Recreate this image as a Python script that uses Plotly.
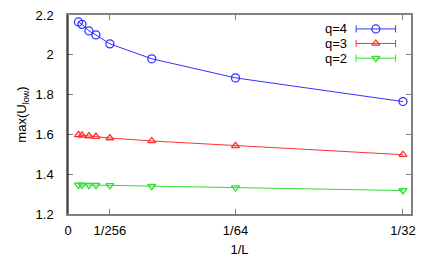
import plotly.graph_objects as go

L_sizes = [1024, 768, 512, 384, 256, 128, 64, 32]
inv_L = [1.0 / s for s in L_sizes]
q4_vals = [2.165, 2.153, 2.120, 2.100, 2.055, 1.980, 1.884, 1.765]
q3_vals = [1.598, 1.595, 1.592, 1.589, 1.582, 1.567, 1.543, 1.498]
q2_vals = [1.346, 1.346, 1.345, 1.345, 1.344, 1.340, 1.333, 1.318]
series_names = ["q=4", "q=3", "q=2"]
x_tick_vals = [0, 1 / 256, 1 / 64, 1 / 32]
x_tick_text = ["0", "1/256", "1/64", "1/32"]
y_tick_vals = [1.2, 1.4, 1.6, 1.8, 2.0, 2.2]
y_tick_text = ["1.2", "1.4", "1.6", "1.8", "2", "2.2"]

colors = ["#3333ff", "#ff3333", "#33dd33"]
symbols = ["circle-open", "triangle-up-open", "triangle-down-open"]
FONT = "Liberation Sans, Arial, sans-serif"

fig = go.Figure()
for name, vals, col, sym in zip(series_names, [q4_vals, q3_vals, q2_vals], colors, symbols):
    fig.add_trace(go.Scatter(
        x=inv_L, y=vals, mode="lines+markers", name=name,
        line=dict(color=col, width=1),
        marker=dict(symbol=sym, size=8 if sym == "circle-open" else 7,
                    color=col, line=dict(width=1.3, color=col)),
        showlegend=False,
    ))

# custom gnuplot-style legend (text right, sample line with caps + marker)
leg_y = [0.93, 0.857, 0.783]
for name, col, sym, yy in zip(series_names, colors, symbols, leg_y):
    fig.add_trace(go.Scatter(
        x=[0.84, 0.955], y=[yy, yy], xaxis="x2", yaxis="y2", mode="lines",
        line=dict(color=col, width=1), showlegend=False, hoverinfo="skip"))
    fig.add_trace(go.Scatter(
        x=[0.8975], y=[yy], xaxis="x2", yaxis="y2", mode="markers",
        marker=dict(symbol=sym, size=8 if sym == "circle-open" else 7,
                    color=col, line=dict(width=1.3, color=col)),
        showlegend=False, hoverinfo="skip"))
    for xc in [0.84, 0.955]:
        fig.add_shape(type="line", xref="x2", yref="y2", x0=xc, x1=xc,
                      y0=yy - 0.018, y1=yy + 0.018, line=dict(color=col, width=1))
    fig.add_annotation(x=0.818, y=yy, xref="x2", yref="y2", text=name,
                       showarrow=False, xanchor="right", yanchor="middle",
                       font=dict(size=13, color="black", family=FONT))

fig.update_layout(
    width=436, height=262,
    margin=dict(l=68, r=25, t=15, b=48),
    paper_bgcolor="white", plot_bgcolor="white",
    font=dict(family=FONT, size=13, color="black"),
    xaxis=dict(
        range=[0, 0.032], tickvals=x_tick_vals, ticktext=x_tick_text,
        ticks="inside", ticklen=5, tickcolor="#808080",
        showline=True, linecolor="#808080", linewidth=1.5, mirror="ticks",
        showgrid=False, zeroline=False, automargin=False,
        ticklabelstandoff=4,
        tickfont=dict(size=13),
        title=dict(text="1/L", font=dict(size=13), standoff=8),
    ),
    yaxis=dict(
        range=[1.2, 2.2], tickvals=y_tick_vals, ticktext=y_tick_text,
        ticks="inside", ticklen=5, tickcolor="#808080",
        showline=True, linecolor="#808080", linewidth=1.5, mirror="ticks",
        showgrid=False, zeroline=False, automargin=False,
        ticklabelstandoff=10,
        tickfont=dict(size=13),
        title=dict(text="max(U<sub>low</sub>)", font=dict(size=13), standoff=6),
    ),
    xaxis2=dict(range=[0, 1], overlaying="x", visible=False, fixedrange=True),
    yaxis2=dict(range=[0, 1], overlaying="y", visible=False, fixedrange=True),
)
# darker left axis line
fig.add_shape(type="line", xref="paper", yref="paper", x0=0, x1=0, y0=0, y1=1,
              line=dict(color="black", width=1))

fig.write_html("out.html", config={"displayModeBar": False},
               post_script="document.body.style.margin='0px';document.body.style.padding='0px';")
